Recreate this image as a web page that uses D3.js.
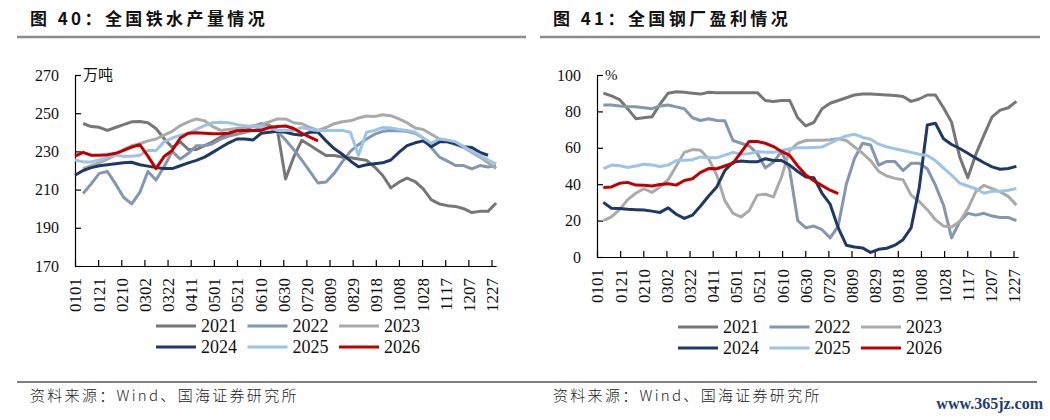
<!DOCTYPE html>
<html>
<head>
<meta charset="utf-8">
<script src="https://cdn.jsdelivr.net/npm/d3@7/dist/d3.min.js"></script>
<style>
body{margin:0;background:#fff}
svg{display:block}
</style>
</head>
<body>
<script>
// tick labels (every 20 days) and legend years
var dateLabels=["0101","0121","0210","0302","0322","0411","0501","0521","0610","0630","0720","0809","0829","0918","1008","1028","1117","1207","1227"]
var years=["2021","2022","2023","2024","2025","2026"]
var colors=["#777777","#8497b0","#aaaaaa","#1f3864","#9dc3e6","#c00000"]

// 图40 weekly pig iron output (万吨)
var iron2021=[null,244.6,243,242.6,241,242.5,244,245.5,245.6,245,242,236.7,232,235,231,231,233,235,237.5,239.5,241,242,243,244.5,243.7,241,215.6,227,235.8,233.2,230.5,227.9,227.9,227,226.7,226,225.3,221.8,217.4,210.9,213.9,216,214.2,210.4,204.6,202.5,201.6,201.2,200,198,198.6,198.6,203]
var iron2022=[null,208,213,218.5,219.5,213,206,202.5,208.5,219.5,215,222,230,226,229,233,233,234,236.5,238,239,240,241,242,243.5,240.5,236,231,225.5,219.5,213.5,214,218.5,224.5,230,233.5,236.5,239,240.5,241,240.8,240.5,239.5,237,231.9,227,224.9,222.6,222.6,220.9,222.6,221.8,222.5]
var iron2023=[null,221,222.5,224,226,228,231,233,234,235.5,236.5,238.5,240.5,243.5,245.5,247,246,243,241,241.5,242,242.5,243.5,244,245.5,247,247,245,244.5,242.5,241,242.5,244.5,245.5,246,247.5,248.5,248.3,249.2,248.7,247,245,242.3,241.5,239,236.5,235,233.5,232,229.5,227,224,221]
var iron2024=[217.5,220,221.5,222.5,223,223.5,224,224.3,223,222.3,221.5,221,221,222.5,224,225.3,227,229.5,232,234.5,236.5,236.5,236,239.5,240,240.5,240,239,238.5,240,240,235.5,231.5,228.5,225,222,223,223.5,224,225.5,229.5,233,234.5,235.5,232.5,235,235,234,232.5,232,229.5,228]
var iron2025=[225.5,224.5,224.5,225.5,227,228,227.5,227.5,228,230.5,230.5,235,237,238.5,239.5,241.5,243.5,245,245.3,245,244,243.5,243,243,242.5,241,241,241,242.5,241.5,241,241,241,241,240,228,240,241,242.5,242.3,241.5,241,240,237,234.3,236.5,236,235,232.5,230,228,225.5,223.5]
var iron2026=[227.5,229.5,228,228,228.3,229,230.5,232.3,233.5,227.5,221,227.3,230.5,237,239.5,239.7,239.5,239.3,239.3,239.5,240.8,241,241,241,242.5,243,243.3,242,239.5,237.5,235.5]

// 图41 steel mill profitability (%)
var profit2021=[90,88.5,86.5,81.5,76,76.5,77,84,90,90.8,90.5,90,89.5,90.5,90.3,90.3,90.3,90.3,90.3,90.3,86,85.5,86,86,76.5,72,74,81.5,84.5,86,87.5,89,89.5,89.5,89.3,89,88.7,88.2,85.5,86.8,89,89,82,74,55,43.5,56.5,67,77,80.7,82,85.5]
var profit2022=[83.5,83.5,83,82.7,82.5,82,81.5,83,83.5,82.5,81.5,76.5,75,76,75,74.8,64,62.5,61,57,49,52,58,48,20,16,17,15,10.5,17,40,54,62.5,61.5,50.5,52.5,52.5,47.5,51.5,51.5,48.5,39.5,28.5,10.5,19.5,24,23,24,22.5,21.7,21.7,20]
var profit2023=[20,22,26,31.5,35,37.5,35.5,38.5,42.5,50,57.5,59,58.7,54,45,31,24,22,25.5,34,34.5,33,44,58.5,62.5,64,64.2,64.2,64.4,65,64,60.5,57,53,47,44.5,43.2,42.5,34,30.5,26,20.5,17,16.5,19.5,26.5,36,39.4,37.6,35.8,33.3,28.5]
var profit2024=[30,26.8,26.7,26.2,26,25.8,25.2,24.5,27,23.5,21.2,23,28,33.5,38.5,47.5,52,52.7,52.3,52.3,54,53,53,50.5,47,44,43.5,35,29,16,6.5,5.5,5,2.5,4.2,4.8,6.5,9.5,16,38,72.5,73.5,65,61.8,59.6,57,54.3,51.8,49.5,48.2,48.6,49.8]
var profit2025=[48.5,50.5,50.2,49.2,50,51,50.5,49.7,50.5,53,53.2,53.5,55,54.5,54.5,56,57.5,56.5,56.8,58,57.5,57.5,58.5,59.5,60,60,60.2,60.4,62.5,64.8,66.5,67.5,65.7,64.7,62,60.5,59.5,58.5,57.5,56.5,55.8,53,48.8,45,40.5,39,37.5,35,36.2,36.1,36.7,37.6]
var profit2026=[38.2,38.5,40.5,41,39.5,39.4,39,39.8,40.2,39.5,42,43,46.5,48.6,48.5,50,51.5,57.5,63.5,63.5,62.5,60.7,58,55.8,50,45,41.9,39.2,36.7,34.8]

var ironSeries=[iron2021,iron2022,iron2023,iron2024,iron2025,iron2026]
var profitSeries=[profit2021,profit2022,profit2023,profit2024,profit2025,profit2026]

var svg=d3.select("body").append("svg")
          .attr("width",1050)
          .attr("height",420)

var serif="'Liberation Serif','Times New Roman',serif"
var cjk="'Noto Sans CJK SC','Noto Sans',sans-serif"

//titles + rules
var titles=[{x:30,text:"图 40：全国铁水产量情况",l1:17,l2:526},{x:553,text:"图 41：全国钢厂盈利情况",l1:540,l2:1040}]
titles.forEach(function(t){
  svg.append("text").attr("x",t.x).attr("y",25)
     .style("font-family",cjk).style("font-weight","bold").style("font-size","17px")
     .style("letter-spacing","3.4px").style("fill","#111")
     .text(t.text)
  svg.append("line").attr("x1",t.l1).attr("x2",t.l2).attr("y1",37).attr("y2",37)
     .style("stroke","#8c8c8c").style("stroke-width",2.5)
})

//footer
svg.append("line").attr("x1",17).attr("x2",1037).attr("y1",382).attr("y2",382)
   .style("stroke","#555").style("stroke-width",1.3)
;[30,553].forEach(function(x){
  svg.append("text").attr("x",x).attr("y",401)
     .style("font-family",cjk).style("font-size","15px").style("font-weight","300")
     .style("letter-spacing","2.3px").style("fill","#222")
     .text("资料来源：Wind、国海证券研究所")
})
svg.append("text").attr("x",1043).attr("y",409).attr("text-anchor","end")
   .style("font-family",serif).style("font-weight","bold").style("font-size","16px")
   .style("fill","#1d3b78").text("www.365jz.com")

var drawChart=function(opt){
  // x in days, 0101 = day 0, ticks every 20 days
  var xScale=d3.scaleLinear().domain([0,364]).range([opt.x0,opt.x0+364*416.5/360])
  var yScale=d3.scaleLinear().domain(opt.yDomain).range([opt.yBottom,75])
  var g=svg.append("g")

  var yAxis=d3.axisLeft(yScale).tickValues(opt.yTicks).tickSizeInner(-6).tickSizeOuter(0).tickPadding(16)
  var ya=g.append("g").attr("transform","translate("+opt.x0+",0)").call(yAxis)
  ya.selectAll("text").style("font-family",serif).style("font-size","16px").style("fill","#111")

  var xAxis=d3.axisBottom(xScale).tickValues(d3.range(dateLabels.length).map(function(i){return i*20}))
              .tickFormat(function(d){return dateLabels[d/20]})
              .tickSizeInner(-6).tickSizeOuter(0)
  var xa=g.append("g").attr("transform","translate(0,"+opt.yBottom+")").call(xAxis)
  xa.selectAll("text")
    .attr("transform","rotate(-90)")
    .attr("x",-12).attr("y",0).attr("dy","0.35em")
    .style("text-anchor","end")
    .style("font-family",serif).style("font-size","17px").style("fill","#111")
  g.selectAll(".domain").style("stroke","#000").style("stroke-width",1.2)
  g.selectAll(".tick line").style("stroke","#000").style("stroke-width",1.2)

  //unit label
  g.append("text").attr("x",opt.x0+8).attr("y",75).attr("dy","0.35em")
   .style("font-family",opt.unitFont).style("font-size","15px").style("fill","#111")
   .text(opt.unit)

  var line=d3.line()
             .defined(function(d){return d!=null})
             .x(function(d,i){return xScale(opt.dayOffset+7*i)})
             .y(function(d){return yScale(d)})
  g.selectAll(".series")
   .data(opt.series)
   .enter()
   .append("path")
   .attr("d",function(d){return line(d)})
   .style("fill","none")
   .style("stroke",function(d,i){return colors[i]})
   .style("stroke-width",3)
   .style("stroke-linejoin","round")

  //legend 3 x 2
  var leg=g.selectAll(".leg").data(years).enter().append("g")
           .attr("transform",function(d,i){return "translate("+(opt.x0+81+(i%3)*91.5)+","+(opt.legY+Math.floor(i/3)*21)+")"})
  leg.append("line").attr("x1",0).attr("x2",40).attr("y1",0).attr("y2",0)
     .style("stroke",function(d,i){return colors[i]}).style("stroke-width",3)
  leg.append("text").attr("x",45).attr("y",0).attr("dy","0.35em")
     .style("font-family",serif).style("font-size","18px").style("fill","#111")
     .text(function(d){return d})
}

drawChart({x0:75,yBottom:266,yDomain:[170,270],yTicks:[170,190,210,230,250,270],
           series:ironSeries,dayOffset:0,unit:"万吨",unitFont:cjk,legY:326})
drawChart({x0:597,yBottom:257,yDomain:[0,100],yTicks:[0,20,40,60,80,100],
           series:profitSeries,dayOffset:5.5,unit:"%",unitFont:serif,legY:327})
</script>
</body>
</html>
